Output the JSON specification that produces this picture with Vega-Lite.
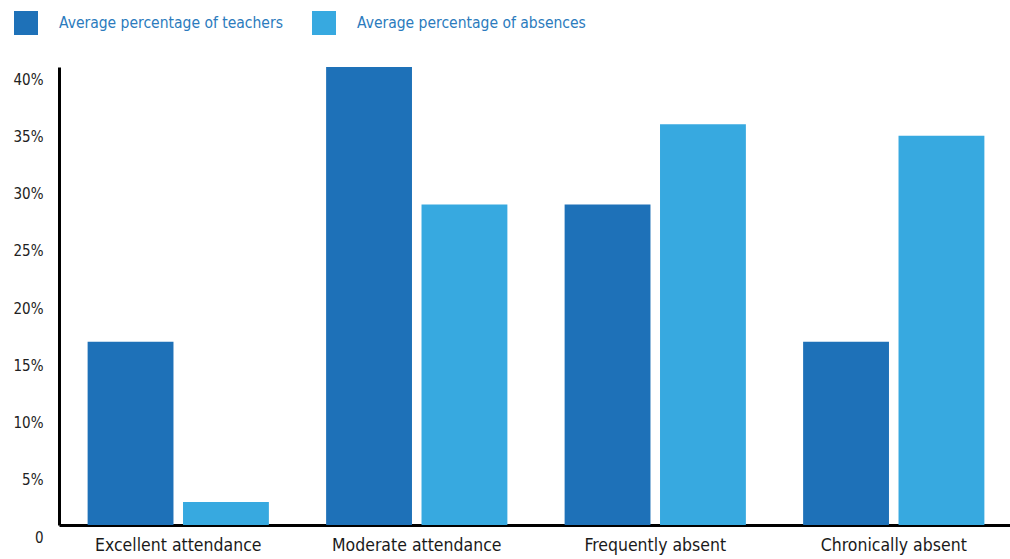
{
  "$schema": "https://vega.github.io/schema/vega-lite/v6.json",
  "width": 954,
  "height": 458,
  "autosize": {"type": "none"},
  "padding": {"left": 59, "top": 67, "right": 0, "bottom": 34},
  "background": "white",
  "config": {
    "view": {"stroke": null},
    "font": "Liberation Sans Narrow, DejaVu Sans Condensed, sans-serif"
  },
  "data": {
    "values": [
      {"category": "Excellent attendance", "series": "Average percentage of teachers", "value": 16},
      {"category": "Excellent attendance", "series": "Average percentage of absences", "value": 2},
      {"category": "Moderate attendance", "series": "Average percentage of teachers", "value": 40},
      {"category": "Moderate attendance", "series": "Average percentage of absences", "value": 28},
      {"category": "Frequently absent", "series": "Average percentage of teachers", "value": 28},
      {"category": "Frequently absent", "series": "Average percentage of absences", "value": 35},
      {"category": "Chronically absent", "series": "Average percentage of teachers", "value": 16},
      {"category": "Chronically absent", "series": "Average percentage of absences", "value": 34}
    ]
  },
  "mark": {"type": "bar"},
  "encoding": {
    "x": {
      "field": "category",
      "type": "nominal",
      "sort": ["Excellent attendance", "Moderate attendance", "Frequently absent", "Chronically absent"],
      "scale": {"paddingInner": 0.24, "paddingOuter": 0.12},
      "axis": {
        "title": null,
        "labelAngle": 0,
        "ticks": false,
        "domainColor": "#000000",
        "domainWidth": 3,
        "labelFontSize": 17.5,
        "labelColor": "#1a1a1a",
        "labelPadding": 11,
        "labelLimit": 0
      }
    },
    "xOffset": {
      "field": "series",
      "type": "nominal",
      "sort": ["Average percentage of teachers", "Average percentage of absences"],
      "scale": {"paddingInner": 0.1, "paddingOuter": 0}
    },
    "y": {
      "field": "value",
      "type": "quantitative",
      "scale": {"domain": [0, 40], "nice": false},
      "axis": {
        "title": null,
        "values": [0, 5, 10, 15, 20, 25, 30, 35, 40],
        "labelExpr": "datum.value == 0 ? '0' : datum.value + '%'",
        "grid": false,
        "ticks": false,
        "domainColor": "#000000",
        "domainWidth": 3,
        "labelFontSize": 15,
        "labelColor": "#222222",
        "labelPadding": 16,
        "labelOffset": 12
      }
    },
    "color": {
      "field": "series",
      "type": "nominal",
      "scale": {
        "domain": ["Average percentage of teachers", "Average percentage of absences"],
        "range": ["#1e71b8", "#37a9e0"]
      },
      "legend": {
        "title": null,
        "orient": "none",
        "direction": "horizontal",
        "legendX": -45,
        "legendY": -56,
        "padding": 0,
        "symbolType": "square",
        "symbolSize": 576,
        "symbolStrokeWidth": 0,
        "labelFontSize": 15.5,
        "labelColor": "#2b7bbd",
        "labelOffset": 21,
        "columnPadding": 29,
        "labelLimit": 400
      }
    }
  }
}
